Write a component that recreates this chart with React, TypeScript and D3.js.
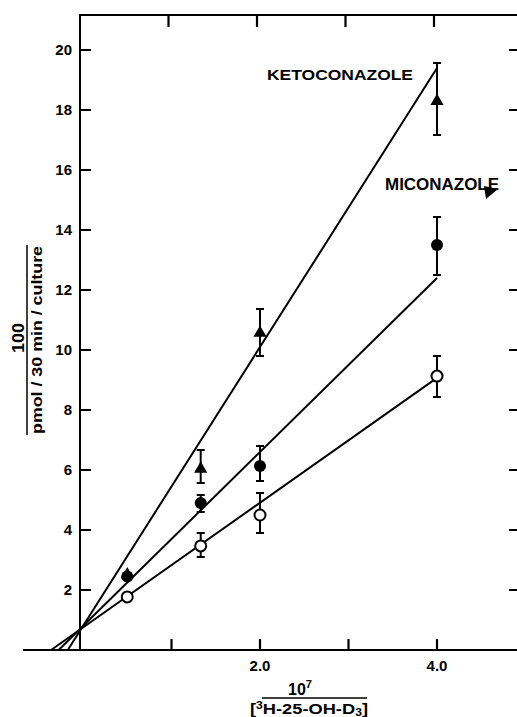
import React from 'react'
import * as d3 from 'd3'

// reciprocal substrate concentration (10^7 / [3H-25-OH-D3])
const xValues = [0.5, 1.33, 2.0, 4.0]

// 100 / (pmol/30 min/culture)
const ketoMean = [2.55, 6.07, 10.6, 18.33]
const ketoHigh = [2.55, 6.67, 11.37, 19.57]
const ketoLow = [2.55, 5.57, 9.8, 17.17]

const micoMean = [2.45, 4.9, 6.13, 13.5]
const micoHigh = [2.45, 5.17, 6.8, 14.43]
const micoLow = [2.45, 4.6, 5.63, 12.5]

const ctrlMean = [1.77, 3.47, 4.5, 9.13]
const ctrlHigh = [1.77, 3.9, 5.23, 9.8]
const ctrlLow = [1.77, 3.1, 3.9, 8.43]

// fitted lines: [slope, intercept]
const ketoFit = [4.65, 0.8]
const micoFit = [2.9, 0.8]
const ctrlFit = [2.08, 0.75]

const yTicks = [2, 4, 6, 8, 10, 12, 14, 16, 18, 20]
const xTicks = [1, 2, 3, 4]
const xLabels = ['2.0', '4.0']
const xLabelValues = [2, 4]

const font = "'Liberation Sans', Arial, sans-serif"

export default function App() {
  const x = d3.scaleLinear().domain([0, 4]).range([83, 437])
  const y = d3.scaleLinear().domain([0, 20]).range([650, 50])
  const line = d3.line<[number, number]>().x(d => x(d[0])).y(d => y(d[1]))

  const fitPath = (fit: number[]) => {
    const x0 = -fit[1] / fit[0]
    return line([[x0, 0], [4, fit[0] * 4 + fit[1]]]) as string
  }

  const errBars = (hi: number[], lo: number[], key: string) =>
    xValues.map((v, i) => hi[i] - lo[i] > 0.05 ? (
      <path key={key + i} fill="none" stroke="#000" strokeWidth={2}
        d={`M${x(v)},${y(hi[i])}V${y(lo[i])}M${x(v) - 4},${y(hi[i])}h8M${x(v) - 4},${y(lo[i])}h8`} />
    ) : null)

  const tri = d3.symbol().type(d3.symbolTriangle).size(75)

  return (
    <svg width={517} height={717} style={{ position: 'absolute', left: 0, top: 0, background: '#fff' }}
      fontFamily={font} fontWeight="bold">
      {/* frame */}
      <path d="M80,651V15H517M23,650H517" fill="none" stroke="#000" strokeWidth={2} />

      {/* tick marks: inward on left, bottom, top and right */}
      {yTicks.map(t => (
        <path key={'yt' + t} fill="none" stroke="#000" strokeWidth={2.2}
          d={`M80,${y(t)}H91M509,${y(t)}H517`} />
      ))}
      {xTicks.map(t => (
        <path key={'xt' + t} fill="none" stroke="#000" strokeWidth={2.2}
          d={`M${x(t)},650V639M${x(t) - 3},15V27`} />
      ))}

      {yTicks.map(t => (
        <text key={'y' + t} x={72} y={y(t)} dy="0.36em" textAnchor="end" fontSize={15}>{t}</text>
      ))}
      {xLabels.map((l, i) => (
        <text key={l} x={x(xLabelValues[i])} y={671} textAnchor="middle" fontSize={15}>{l}</text>
      ))}

      {/* fitted lines */}
      {[ketoFit, micoFit, ctrlFit].map((f, i) => (
        <path key={'f' + i} d={fitPath(f)} fill="none" stroke="#000" strokeWidth={2} />
      ))}

      {/* error bars */}
      {errBars(ketoHigh, ketoLow, 'k')}
      {errBars(micoHigh, micoLow, 'm')}
      {errBars(ctrlHigh, ctrlLow, 'c')}

      {/* markers */}
      {xValues.map((v, i) => (
        <circle key={'mc' + i} cx={x(v)} cy={y(micoMean[i])} r={6} fill="#000" />
      ))}
      {xValues.map((v, i) => (
        <path key={'kt' + i} d={tri() as string} transform={`translate(${x(v)},${y(ketoMean[i]) + 1})`} fill="#000" />
      ))}
      {xValues.map((v, i) => (
        <circle key={'cc' + i} cx={x(v)} cy={y(ctrlMean[i])} r={5.5} fill="#fff" stroke="#000" strokeWidth={2} />
      ))}

      {/* series labels */}
      <text x={267} y={80} fontSize={15} textLength={146} lengthAdjust="spacingAndGlyphs">KETOCONAZOLE</text>
      <text x={385} y={190} fontSize={16} textLength={114} lengthAdjust="spacingAndGlyphs">MICONAZOLE</text>
      <path d="M484,186 L498,189 L486,199 Z" fill="#000" />

      {/* y axis title */}
      <text transform="translate(24,338) rotate(-90)" textAnchor="middle" fontSize={16}
        textLength={30} lengthAdjust="spacingAndGlyphs">100</text>
      <line x1={27} x2={27} y1={245} y2={435} stroke="#000" strokeWidth={1.5} />
      <text transform="translate(42,340) rotate(-90)" textAnchor="middle" fontSize={15}
        textLength={188} lengthAdjust="spacingAndGlyphs">pmol / 30 min / culture</text>

      {/* x axis title */}
      <text x={300} y={695} textAnchor="middle" fontSize={16}>10<tspan dy={-7} fontSize={11}>7</tspan></text>
      <line x1={262} x2={367} y1={698} y2={698} stroke="#000" strokeWidth={1.5} />
      <text x={309} y={714} textAnchor="middle" fontSize={15} textLength={118} lengthAdjust="spacingAndGlyphs">
        [<tspan dy={-5} fontSize={10}>3</tspan><tspan dy={5}>H-25-OH-D</tspan><tspan dy={2} fontSize={10}>3</tspan><tspan dy={-2}>]</tspan>
      </text>
    </svg>
  )
}
